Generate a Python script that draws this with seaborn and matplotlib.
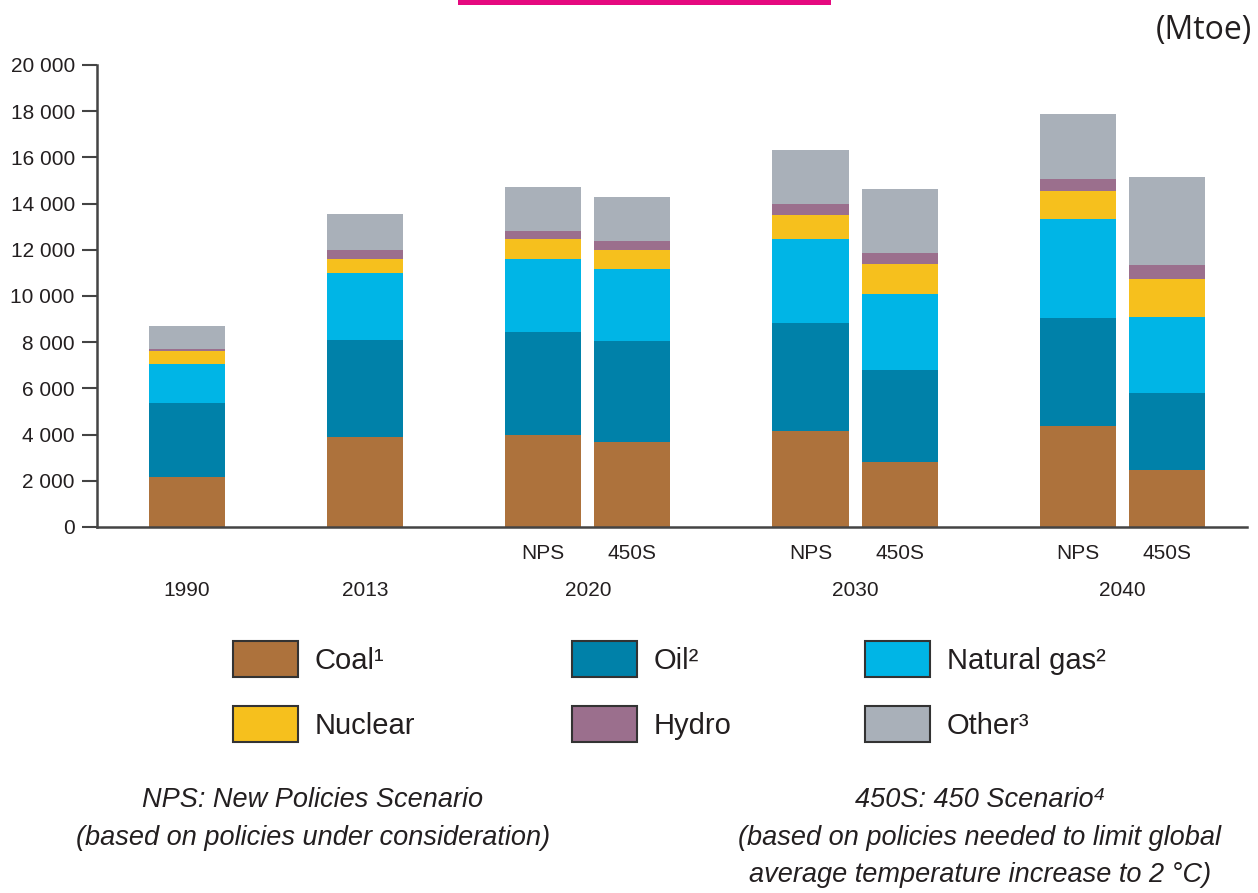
import numpy as np
import pandas as pd
import matplotlib.pyplot as plt
import seaborn as sns
from matplotlib.patches import Patch, Rectangle

# values in Mtoe
bars = ['1990', '2013', '2020 NPS', '2020 450S', '2030 NPS', '2030 450S', '2040 NPS', '2040 450S']
coal = [2160, 3880, 3970, 3680, 4160, 2810, 4360, 2450]
oil = [3220, 4230, 4470, 4370, 4650, 3970, 4700, 3350]
gas = [1690, 2890, 3180, 3110, 3640, 3320, 4290, 3290]
nuclear = [540, 620, 830, 850, 1070, 1300, 1200, 1660]
hydro = [110, 360, 360, 360, 450, 480, 500, 610]
other = [1000, 1560, 1910, 1920, 2370, 2770, 2850, 3790]

sources = ['Coal', 'Oil', 'Natural gas', 'Nuclear', 'Hydro', 'Other']
legend_labels = ['Coal\u00b9', 'Oil\u00b2', 'Natural gas\u00b2', 'Nuclear', 'Hydro', 'Other\u00b3']
colors = ['#AD723C', '#0081A9', '#00B5E6', '#F6C01D', '#9B6F8D', '#A9B0B9']

years = ['1990', '2013', '2020', '2030', '2040']
scen_labels = ['NPS', '450S']

df = pd.DataFrame({'bar': bars, 'Coal': coal, 'Oil': oil, 'Natural gas': gas,
                   'Nuclear': nuclear, 'Hydro': hydro, 'Other': other})
cum = df[sources].cumsum(axis=1)
cum['bar'] = df['bar']

# empty slots give the gaps between the year groups
order = ['1990', 'gap1', '2013', 'gap2', '2020 NPS', '2020 450S', 'gap3',
         '2030 NPS', '2030 450S', 'gap4', '2040 NPS', '2040 450S']

sns.set_theme(style='white')
plt.rcParams['font.family'] = ['Liberation Sans', 'DejaVu Sans']
txt = '#231F20'

fig = plt.figure(figsize=(12.58, 8.93), dpi=100)
ax = fig.add_axes([97 / 1258, 1 - 527 / 893, 1150 / 1258, 462 / 893])

# draw from top of stack down so lower layers sit in front
for src, col in reversed(list(zip(sources, colors))):
    sns.barplot(data=cum, x='bar', y=src, order=order, color=col, saturation=1,
                width=0.855, ax=ax, edgecolor='none', linewidth=0)

ax.set_xlim(-1.01, 11.9)
ax.set_ylim(0, 20000)
ax.set_yticks(np.arange(0, 20001, 2000))
ax.set_yticklabels(['{:,}'.format(v).replace(',', ' ') for v in range(0, 20001, 2000)],
                   fontsize=15, color=txt)
ax.set_xlabel('')
ax.set_ylabel('')
ax.set_xticks([])
ax.tick_params(axis='y', length=11, width=1.5, color='#444444', pad=5, left=True)
for s in ['top', 'right']:
    ax.spines[s].set_visible(False)
for s in ['left', 'bottom']:
    ax.spines[s].set_color('#444444')
    ax.spines[s].set_linewidth(1.8)

# scenario and year labels under the axis
pos = {b: i for i, b in enumerate(order)}
for yr in years:
    members = [b for b in bars if b.startswith(yr)]
    xs = [pos[b] for b in members]
    if len(members) > 1:
        for b, lab in zip(members, scen_labels):
            ax.annotate(lab, xy=(pos[b], 0), xycoords=('data', 'axes fraction'),
                        xytext=(0, -19), textcoords='offset points', ha='center',
                        va='center', fontsize=15, color=txt)
    ax.annotate(yr, xy=(np.mean(xs), 0), xycoords=('data', 'axes fraction'),
                xytext=(0, -45.5), textcoords='offset points', ha='center',
                va='center', fontsize=15, color=txt)

# legend, one block per column
handles = [Patch(facecolor=c, edgecolor='#333333', linewidth=1.5) for c in colors]
col_x = [233, 572, 865]
for i, x in enumerate(col_x):
    idx = [i, i + 3]
    fig.legend([handles[j] for j in idx], [legend_labels[j] for j in idx],
               loc='upper left', bbox_to_anchor=(x / 1258, 1 - 641 / 893),
               frameon=False, fontsize=21, handlelength=2.23, handleheight=1.52,
               handletextpad=0.58, labelspacing=1.0, borderpad=0, borderaxespad=0,
               labelcolor=txt)

# unit and notes
fig.text(1252 / 1258, 1 - 30 / 893, '(Mtoe)', ha='right', va='center', fontsize=23,
         family=['Open Sans', 'DejaVu Sans'], color=txt)
note = dict(ha='center', va='center', fontsize=19.5, style='italic', color=txt)
fig.text(313 / 1258, 1 - 800 / 893, 'NPS: New Policies Scenario', **note)
fig.text(313 / 1258, 1 - 838 / 893, '(based on policies under consideration)', **note)
fig.text(980 / 1258, 1 - 800 / 893, '450S: 450 Scenario\u2074', **note)
fig.text(980 / 1258, 1 - 838 / 893, '(based on policies needed to limit global', **note)
fig.text(980 / 1258, 1 - 875 / 893, 'average temperature increase to 2 \u00b0C)', **note)

# pink rule left over from the title above
fig.patches.append(Rectangle((458 / 1258, 1 - 5 / 893), 373 / 1258, 5 / 893,
                             transform=fig.transFigure, facecolor='#E5097F',
                             edgecolor='none'))

fig.savefig('out.png', dpi=100)
